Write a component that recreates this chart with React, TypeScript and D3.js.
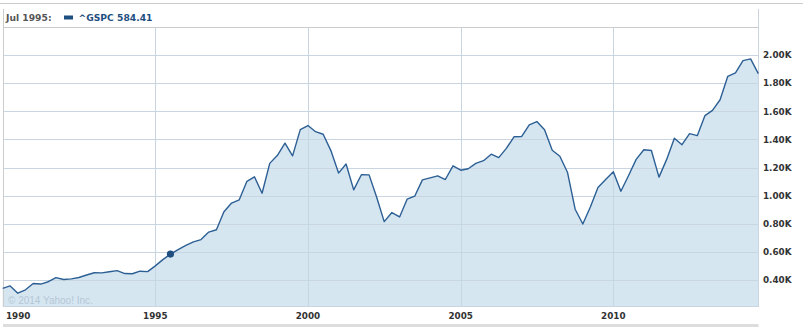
import React from "react";
import * as d3 from "d3";

const W = 803;
const H = 327;

// Quarterly S&P 500 (^GSPC) values, labelled by quarter start, 1990 Q1 .. 2014 Q4
const startYear = 1990;
const values: number[] = [
  339.94, 358.02, 306.05, 330.22,
  375.22, 371.16, 387.86, 417.09,
  403.69, 408.14, 417.8, 435.71,
  451.67, 450.53, 458.93, 466.45,
  445.77, 444.27, 462.69, 459.27,
  500.71, 544.75, 584.41, 615.93,
  645.5, 670.63, 687.31, 740.74,
  757.12, 885.14, 947.28, 970.43,
  1101.75, 1133.84, 1017.01, 1229.23,
  1286.37, 1372.71, 1282.71, 1469.25,
  1498.58, 1454.6, 1436.51, 1320.28,
  1160.33, 1224.42, 1040.94, 1148.08,
  1147.39, 989.82, 815.28, 879.82,
  848.18, 974.5, 995.97, 1111.92,
  1126.21, 1140.84, 1114.58, 1211.92,
  1180.59, 1191.33, 1228.81, 1248.29,
  1294.83, 1270.2, 1335.85, 1418.3,
  1420.86, 1503.35, 1526.75, 1468.36,
  1322.7, 1280.0, 1166.36, 903.25,
  797.87, 919.32, 1057.08, 1115.1,
  1169.43, 1030.71, 1141.2, 1257.64,
  1325.83, 1320.64, 1131.42, 1257.6,
  1408.47, 1362.16, 1440.67, 1426.19,
  1569.19, 1606.28, 1681.55, 1848.36,
  1872.34, 1960.23, 1972.29, 1868.0,
];

const yTicks: number[] = [400, 600, 800, 1000, 1200, 1400, 1600, 1800, 2000];
const xTickYears: number[] = [1990, 1995, 2000, 2005, 2010];

const legendDate = "Jul 1995:";
const legendSymbol = "^GSPC";
const highlightIndex = 22; // Jul 1995

const data = values.map((v, i) => ({
  date: new Date(startYear + Math.floor(i / 4), (i % 4) * 3, 1),
  value: v,
}));

const PLOT_LEFT = 3;
const PLOT_RIGHT = 758.5;
const PLOT_TOP = 28;
const PLOT_BOTTOM = 307;

const x = d3
  .scaleTime()
  .domain([new Date(1990, 0, 1), new Date(2014, 9, 1)])
  .range([2.67, 758.3]);

const y = d3.scaleLinear().domain([400, 2000]).range([280, 55]);

const area = d3
  .area<{ date: Date; value: number }>()
  .x((d) => x(d.date))
  .y0(PLOT_BOTTOM)
  .y1((d) => y(d.value));

const line = d3
  .line<{ date: Date; value: number }>()
  .x((d) => x(d.date))
  .y((d) => y(d.value));

const GRID = "#c9d6e2";
const FRAME = "#cccccc";
const FONT = "'DejaVu Sans', Verdana, sans-serif";

export default function App() {
  const hp = data[highlightIndex];
  return (
    <svg
      width={W}
      height={H}
      style={{ position: "absolute", left: 0, top: 0, background: "#fff" }}
    >
      {/* top page line */}
      <line x1={0} x2={W} y1={3.5} y2={3.5} stroke={FRAME} strokeWidth={1} />

      {/* area */}
      <path d={area(data) || ""} fill="#d6e6f1" />

      {/* horizontal grid */}
      {yTicks.map((t) => (
        <line
          key={"h" + t}
          x1={PLOT_LEFT}
          x2={PLOT_RIGHT}
          y1={Math.round(y(t)) + 0.5}
          y2={Math.round(y(t)) + 0.5}
          stroke={GRID}
          strokeWidth={1}
        />
      ))}
      {/* vertical grid */}
      {xTickYears.slice(1).map((yr) => {
        const px = Math.round(x(new Date(yr, 0, 1))) + 0.5;
        return (
          <line
            key={"v" + yr}
            x1={px}
            x2={px}
            y1={PLOT_TOP}
            y2={PLOT_BOTTOM}
            stroke={GRID}
            strokeWidth={1}
          />
        );
      })}

      {/* frame */}
      <line x1={PLOT_LEFT} x2={PLOT_RIGHT} y1={27.5} y2={27.5} stroke={FRAME} />
      <line x1={3.5} x2={3.5} y1={9} y2={PLOT_BOTTOM} stroke={FRAME} />
      <line x1={PLOT_RIGHT} x2={PLOT_RIGHT} y1={9} y2={PLOT_BOTTOM} stroke={GRID} />
      <line x1={PLOT_LEFT} x2={PLOT_RIGHT} y1={PLOT_BOTTOM - 0.5} y2={PLOT_BOTTOM - 0.5} stroke={GRID} />

      {/* line */}
      <path d={line(data) || ""} fill="none" stroke="#2c5f94" strokeWidth={1.4} strokeLinejoin="round" />

      {/* highlighted point */}
      <circle cx={x(hp.date)} cy={y(hp.value)} r={3.6} fill="#1f4f80" />

      {/* watermark */}
      <text
        x={8}
        y={303.5}
        fontFamily="'Liberation Sans', Arial, sans-serif"
        fontSize={10}
        fill="#b5c6d6"
      >
        © 2014 Yahoo! Inc.
      </text>

      {/* legend */}
      <text x={6} y={20.5} fontFamily={FONT} fontWeight="bold" fontSize={9.2} fill="#555">
        {legendDate}
      </text>
      <rect x={64} y={15.5} width={9} height={4} fill="#1f4f80" />
      <text x={78.5} y={20.5} fontFamily={FONT} fontWeight="bold" fontSize={9.2} fill="#1f4f80">
        {legendSymbol + " " + hp.value.toFixed(2)}
      </text>

      {/* y axis labels */}
      {yTicks.map((t) => (
        <text
          key={"yl" + t}
          x={763}
          y={y(t) + 3.3}
          fontFamily={FONT}
          fontWeight="bold"
          fontSize={8.8}
          fill="#333"
        >
          {(t / 1000).toFixed(2) + "K"}
        </text>
      ))}

      {/* x axis labels */}
      {xTickYears.map((yr, i) => {
        const px = x(new Date(yr, 0, 1));
        return (
          <text
            key={"xl" + yr}
            x={i === 0 ? 6 : px}
            y={319}
            textAnchor={i === 0 ? "start" : "middle"}
            fontFamily={FONT}
            fontWeight="bold"
            fontSize={8.8}
            fill="#333"
          >
            {yr}
          </text>
        );
      })}

      {/* bottom gray bar */}
      <rect x={3} y={324} width={755.5} height={3} fill="#dddddd" />
    </svg>
  );
}
